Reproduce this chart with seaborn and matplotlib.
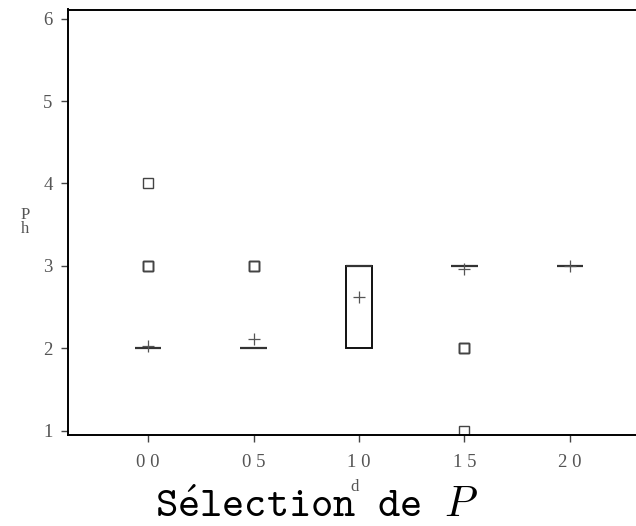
import numpy as np
import pandas as pd
import matplotlib
matplotlib.use("Agg")
import matplotlib.pyplot as plt
import seaborn as sns

# Data: observed values per group with their counts
categories = ["0 0", "0 5", "1 0", "1 5", "2 0"]
values_g0 = [2, 3, 4];    counts_g0 = [200, 3, 1]
values_g1 = [2, 3];       counts_g1 = [22, 3]
values_g2 = [2, 3];       counts_g2 = [8, 13]
values_g3 = [1, 2, 3];    counts_g3 = [1, 3, 121]
values_g4 = [3];          counts_g4 = [20]
yticks = [1, 2, 3, 4, 5, 6]

groups = [(values_g0, counts_g0), (values_g1, counts_g1), (values_g2, counts_g2),
          (values_g3, counts_g3), (values_g4, counts_g4)]
rows = []
for cat, (vals, cnts) in zip(categories, groups):
    for v, c in zip(vals, cnts):
        rows += [(cat, v)] * c
df = pd.DataFrame(rows, columns=["d", "Ph"])

sns.set_style("ticks")
plt.rcParams["mathtext.fontset"] = "cm"
TT = "cmtt10"
SERIF = "Liberation Serif"

fig = plt.figure(figsize=(6.36, 5.26), dpi=100)
ax = fig.add_axes([68/636, (526-435)/526, 582/636, (435-9.5)/526])

sns.boxplot(data=df, x="d", y="Ph", order=categories, ax=ax, width=0.25,
            color="white", linecolor="#111111", linewidth=1.4, showcaps=False,
            showmeans=True,
            meanprops=dict(marker="+", markeredgecolor="#555555", markersize=8,
                           markeredgewidth=0.9),
            medianprops=dict(color="#333333", linewidth=1.6),
            flierprops=dict(marker="s", markersize=6.5, markeredgecolor="#444444",
                            markerfacecolor="none", markeredgewidth=1.0))

ax.set_xlim(-0.76, 4.76)
ax.set_ylim(0.95, 6.11)
ax.set_yticks(yticks)
ax.set_yticklabels([str(t) for t in yticks])
ax.set_xticks(range(len(categories)))
ax.set_xticklabels(categories)
for spine in ["left", "bottom", "top"]:
    ax.spines[spine].set_visible(True)
    ax.spines[spine].set_color("black")
    ax.spines[spine].set_linewidth(1.4)
ax.spines["right"].set_visible(False)
ax.tick_params(axis="both", length=5, width=1, color="#444444", labelcolor="#555555",
               labelsize=13.5)
for lab in ax.get_xticklabels() + ax.get_yticklabels():
    lab.set_family(SERIF)
ax.tick_params(axis="x", pad=9)
ax.tick_params(axis="y", pad=6)

ax.set_xlabel("d", fontsize=12, color="#555555", family=SERIF, va="center", ha="center")
ax.xaxis.set_label_coords((355 - 68) / 582, (435 - 487) / 425.5)
ax.set_ylabel("P\nh", fontsize=12, color="#555555", family=SERIF,
              rotation=0, va="center", ha="center", linespacing=0.85)
ax.yaxis.set_label_coords((25 - 68) / 582, (435 - 222) / 425.5)

fig.text(155 / 636, 9 / 526, r"S$\acute{\mathtt{e}}$lection de $P$", ha="left", va="baseline",
         family=TT, fontsize=30.5, color="black")

fig.savefig("out.png", dpi=100)
